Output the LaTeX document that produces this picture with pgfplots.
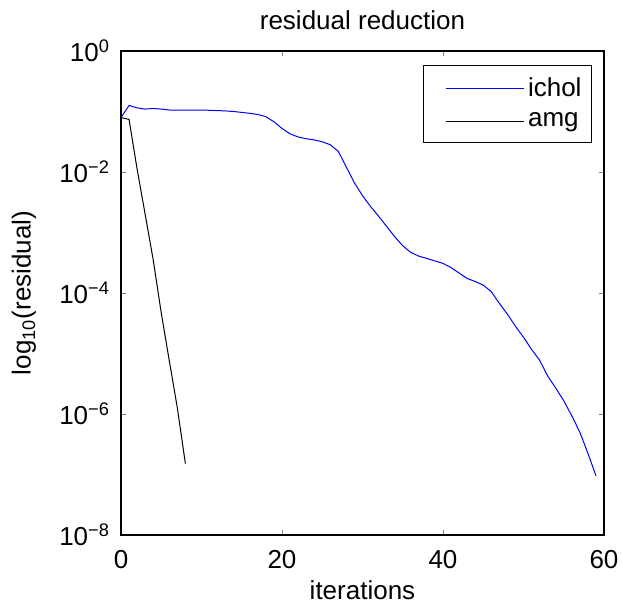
\documentclass[border=0pt]{standalone}
\usepackage{fontspec}
\setmainfont{Liberation Sans}
\usepackage{pgfplots}
\pgfplotsset{compat=1.18}

\begin{document}
\fontsize{13}{15}\selectfont
\begin{tikzpicture}
\useasboundingbox (-60.5pt,-35.5pt) rectangle (250.5pt,267.5pt);
\begin{axis}[
  scale only axis,
  width=241.5pt, height=242pt,
  at={(0pt,0pt)}, anchor=south west,
  ymode=log,
  xmin=0, xmax=60, ymin=1e-8, ymax=1,
  xtick={0,20,40,60},
  ytick={1e-8,1e-6,1e-4,1e-2,1},
  yticklabels={10\textsuperscript{\textminus8},10\textsuperscript{\textminus6},10\textsuperscript{\textminus4},10\textsuperscript{\textminus2},10\textsuperscript{0}},
  minor ytick={}, minor xtick={},
  tick align=inside, tick pos=both,
  major tick length=2.5pt,
  /pgf/number format/assume math mode=true,
  tick label style={font=\fontsize{13}{15}\selectfont},
  xticklabel style={yshift=-3pt},
  yticklabel style={xshift=-1pt},
  xlabel={iterations},
  ylabel={log\textsubscript{10}(residual)},
  title={residual reduction},
  label style={font=\fontsize{13}{15}\selectfont},
  xlabel style={at={(axis description cs:0.5,-0.1136)}, anchor=center},
  ylabel style={at={(axis description cs:-0.2008,0.5)}, anchor=center},
  title style={at={(axis description cs:0.5,1.039)}, anchor=center, yshift=0pt,
               font=\fontsize{13}{15}\selectfont},
  axis line style={line width=0.6pt},
  legend style={at={(0.975,0.971)}, anchor=north east,
                font=\fontsize{13}{15}\selectfont, row sep=2pt, inner ysep=4pt},
  legend cell align=left,
  legend image code/.code={\path (-8pt,0pt); \draw[#1] (0pt,0pt) -- (39pt,0pt);},
]
\addplot[blue, line width=0.5pt] coordinates {
(0,0.0794) (1,0.1259) (2,0.1148) (3,0.1096) (4,0.1122) (5,0.1096)
(6,0.1059) (7,0.1059) (8,0.1059) (9,0.1059) (10,0.1059) (11,0.1047)
(12,0.1035) (13,0.1023) (14,0.1) (15,0.0966) (16,0.0933) (17,0.0891)
(18,0.0822) (19,0.0676) (20,0.0525) (21,0.0427) (22,0.0380) (23,0.0355)
(24,0.0339) (25,0.0316) (26,0.0282) (27,0.0219) (28,0.0120) (29,6.61e-3)
(30,4.07e-3) (31,2.69e-3) (32,1.86e-3) (33,1.26e-3) (34,8.51e-4) (35,6.03e-4)
(36,4.68e-4) (37,4.07e-4) (38,3.72e-4) (39,3.39e-4) (40,3.09e-4) (41,2.63e-4)
(42,2.14e-4) (43,1.74e-4) (44,1.55e-4) (45,1.35e-4) (46,1.05e-4) (47,6.76e-5)
(48,4.47e-5) (49,2.82e-5) (50,1.86e-5) (51,1.17e-5) (52,7.76e-6) (53,4.27e-6)
(54,2.69e-6) (55,1.66e-6) (56,9.33e-7) (57,5.01e-7) (58,2.24e-7) (59,9.55e-8)
};
\addlegendentry{ichol}
\addplot[black, line width=0.5pt] coordinates {
(0,0.0794) (1,0.0741) (2,0.0112) (3,2.00e-3) (4,3.55e-4) (5,4.68e-5)
(6,7.59e-6) (7,1.26e-6) (8,1.51e-7)
};
\addlegendentry{amg}
\end{axis}
\end{tikzpicture}
\end{document}
